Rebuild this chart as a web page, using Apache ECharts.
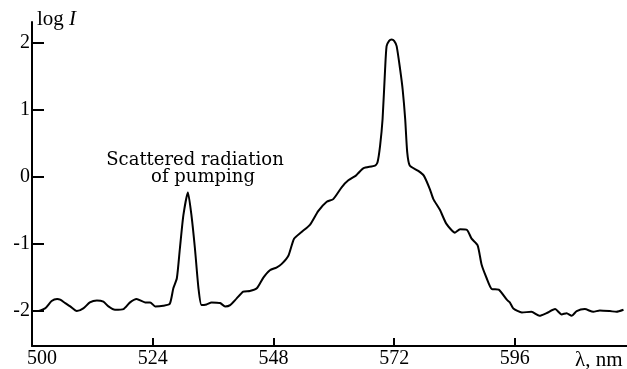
<!DOCTYPE html>
<html>
<head>
<meta charset="utf-8">
<script src="https://cdn.jsdelivr.net/npm/echarts@6/dist/echarts.min.js"></script>
<style>
  html, body { margin: 0; padding: 0; background: #fff; }
  #chart { width: 627px; height: 369px; }
</style>
</head>
<body>
<div id="chart"></div>
<script>
var xTicks = [500, 524, 548, 572, 596];
var yTicks = [-2, -1, 0, 1, 2];

var wavelength = [
    500.2, 501.0, 502.6, 503.9, 505.0, 505.6, 506.6, 507.6, 508.9, 510.2,
    511.5, 512.9, 514.2, 515.2, 516.5, 518.2, 519.5, 520.8, 522.5, 523.5,
    524.5, 526.1, 527.4, 528.1, 528.8, 529.4, 530.1, 531.0, 531.7, 532.4,
    533.1, 533.7, 534.7, 535.7, 537.4, 538.4, 539.4, 540.7, 542.0, 543.3,
    544.7, 546.0, 547.3, 548.6, 549.6, 551.0, 552.1, 553.6, 555.3, 556.9,
    558.6, 559.9, 561.6, 562.9, 564.4, 564.9, 565.9, 568.2, 568.7, 569.2,
    569.7, 570.2, 570.5, 571.0, 571.5, 572.0, 572.5, 573.2, 573.7, 574.2,
    574.6, 575.1, 576.8, 577.9, 579.1, 579.8, 581.1, 582.4, 584.1, 585.1,
    586.5, 587.4, 588.6, 589.4, 590.4, 591.4, 592.8, 594.4, 595.0, 595.7,
    597.4, 599.3, 600.9, 602.3, 604.0, 605.3, 606.3, 607.3, 608.3, 609.9,
    611.6, 612.9, 614.9, 616.2, 617.6
];
var logI = [
    -2.00, -2.00, -1.96, -1.85, -1.82, -1.83, -1.88, -1.93, -2.00, -1.96,
    -1.87, -1.84, -1.86, -1.93, -1.98, -1.97, -1.87, -1.82, -1.87, -1.87,
    -1.93, -1.92, -1.89, -1.66, -1.51, -1.07, -0.57, -0.23, -0.57, -1.07,
    -1.66, -1.91, -1.90, -1.87, -1.88, -1.93, -1.91, -1.81, -1.71, -1.70,
    -1.66, -1.50, -1.39, -1.35, -1.30, -1.17, -0.92, -0.82, -0.71, -0.51,
    -0.37, -0.33, -0.15, -0.05, 0.02, 0.06, 0.13, 0.17, 0.22, 0.46,
    0.86, 1.60, 1.95, 2.03, 2.05, 2.03, 1.95, 1.60, 1.30, 0.86,
    0.37, 0.17, 0.09, 0.02, -0.18, -0.33, -0.49, -0.70, -0.83, -0.78,
    -0.79, -0.92, -1.02, -1.31, -1.51, -1.67, -1.68, -1.83, -1.87, -1.96,
    -2.02, -2.01, -2.07, -2.03, -1.97, -2.05, -2.03, -2.07, -2.00, -1.97,
    -2.01, -1.99, -2.00, -2.01, -1.98
];

var serif = '"Liberation Serif", "DejaVu Serif", serif';
var wideSerif = '"DejaVu Serif", serif';

var points = [];
for (var i = 0; i < wavelength.length; i++) {
    points.push([wavelength[i], logI[i]]);
}

var myChart = echarts.init(document.getElementById('chart'));

var option = {
    animation: false,
    grid: { left: 32, right: 0, top: 22, bottom: 21, containLabel: false },
    xAxis: {
        type: 'value',
        min: 500,
        max: 618.3,
        splitLine: { show: false },
        axisLine: { onZero: false, lineStyle: { color: '#000', width: 2 } },
        axisTick: { inside: true, length: 8, lineStyle: { color: '#000', width: 2 }, customValues: xTicks },
        axisLabel: {
            customValues: xTicks,
            color: '#000',
            fontFamily: serif,
            fontSize: 20,
            margin: 3,
            formatter: function (v) {
                return v === 500 ? '{m|500}' : String(v);
            },
            rich: { m: { padding: [0, 0, 0, 20], fontFamily: serif, fontSize: 20, color: '#000' } }
        }
    },
    yAxis: {
        type: 'value',
        min: -2.52,
        max: 2.31,
        splitLine: { show: false },
        axisLine: { onZero: false, lineStyle: { color: '#000', width: 2 } },
        axisTick: { inside: true, length: 12, lineStyle: { color: '#000', width: 2 }, customValues: yTicks },
        axisLabel: {
            customValues: yTicks,
            color: '#000',
            fontFamily: serif,
            fontSize: 20,
            margin: 2
        },
        name: '{a|log }{b|I}',
        nameLocation: 'end',
        nameGap: 3,
        nameTextStyle: {
            align: 'left',
            verticalAlign: 'middle',
            padding: [0, 0, 0, 5],
            rich: {
                a: { fontFamily: serif, fontSize: 21, color: '#000' },
                b: { fontFamily: serif, fontSize: 21, fontStyle: 'italic', color: '#000' }
            }
        }
    },
    graphic: [
        { type: 'text', left: 575, top: 350, style: { text: 'λ, nm', font: '21px ' + serif, fill: '#000' } },
        { type: 'text', x: 195, y: 160, style: { text: 'Scattered radiation', font: '18px ' + wideSerif, fill: '#000', align: 'center', verticalAlign: 'middle' } },
        { type: 'text', x: 203, y: 177, style: { text: 'of pumping', font: '18px ' + wideSerif, fill: '#000', align: 'center', verticalAlign: 'middle' } }
    ],
    series: [
        {
            type: 'line',
            data: points,
            showSymbol: false,
            smooth: 0.2,
            lineStyle: { color: '#000', width: 2 }
        }
    ]
};

myChart.setOption(option);
</script>
</body>
</html>
